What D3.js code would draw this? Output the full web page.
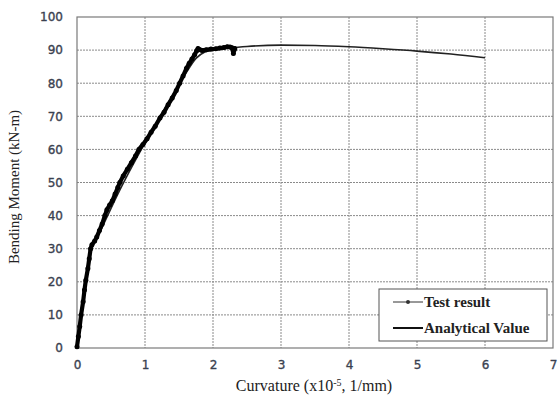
<!DOCTYPE html>
<html>
<head>
<meta charset="utf-8">
<script src="https://cdn.jsdelivr.net/npm/d3@7"></script>
<style>
  html, body { margin: 0; padding: 0; background: #fff; }
  svg { display: block; }
</style>
</head>
<body>
<svg id="chart" width="560" height="403"></svg>
<script>
// Moment–curvature response: measured test data vs. analytical prediction
const xTicks = [0, 1, 2, 3, 4, 5, 6, 7];
const yTicks = [0, 10, 20, 30, 40, 50, 60, 70, 80, 90, 100];

// Test result (curvature x10^-5 1/mm, moment kN-m)
const testCurv = [0, 0.02, 0.04, 0.06, 0.09, 0.11, 0.13, 0.16, 0.18, 0.20, 0.22, 0.26, 0.29, 0.33, 0.37, 0.41, 0.44, 0.48, 0.52, 0.56, 0.60, 0.63, 0.68, 0.74, 0.80, 0.86, 0.91, 0.97, 1.03, 1.09, 1.15, 1.22, 1.28, 1.34, 1.40, 1.46, 1.51, 1.56, 1.61, 1.65, 1.69, 1.73, 1.76, 1.78, 1.81, 1.84, 1.90, 1.97, 2.04, 2.10, 2.16, 2.21, 2.25, 2.28, 2.30, 2.31, 2.32];
const testMom  = [0.4, 3.5, 6.5, 10, 14, 17.5, 20.5, 24, 27, 30, 31.2, 32.3, 33.5, 35.5, 37.5, 40, 41.8, 43.2, 44.5, 46.5, 48.5, 50, 52, 54, 56, 58, 60, 61.5, 63.2, 65.2, 67, 69.5, 71.2, 73.5, 75.5, 77.8, 80, 82.2, 84.5, 86, 87.3, 88.6, 89.8, 90.5, 90.1, 89.9, 90.1, 90.3, 90.4, 90.6, 90.8, 91.0, 90.9, 90.7, 89.0, 90.0, 90.5];

// Analytical value
const anaCurv = [0, 0.10, 0.20, 0.30, 0.45, 0.60, 0.80, 1.00, 1.20, 1.40, 1.60, 1.75, 1.88, 2.00, 2.20, 2.50, 3.00, 3.50, 4.00, 4.50, 5.00, 5.50, 6.00];
const anaMom  = [0, 16, 30, 33.5, 40, 46.5, 54.5, 62, 69, 76, 83, 87.5, 89.4, 90.0, 90.5, 91.1, 91.5, 91.4, 91.0, 90.4, 89.7, 88.8, 87.7];

const svg = d3.select("#chart");
const L = 77, R = 553, T = 17, B = 348;

const x = d3.scaleLinear().domain([0, 7]).range([L, R]);
const y = d3.scaleLinear().domain([0, 100]).range([B, T]);

// grid
const grid = svg.append("g");
grid.selectAll("line.v").data(xTicks.slice(1, -1)).enter().append("line")
  .attr("x1", d => x(d)).attr("x2", d => x(d)).attr("y1", T).attr("y2", B)
  .attr("stroke", "#8a8a8a").attr("stroke-width", 1).attr("stroke-dasharray", "2,1");
grid.selectAll("line.h").data(yTicks.slice(1, -1)).enter().append("line")
  .attr("y1", d => y(d)).attr("y2", d => y(d)).attr("x1", L).attr("x2", R)
  .attr("stroke", "#8a8a8a").attr("stroke-width", 1).attr("stroke-dasharray", "2,1");

// frame
svg.append("rect").attr("x", L).attr("y", T).attr("width", R - L).attr("height", B - T)
  .attr("fill", "none").attr("stroke", "#7a7a7a").attr("stroke-width", 1.2);

// axes
const tickColor = "#3a4150";
const xAxis = svg.append("g").attr("transform", `translate(0,${B})`)
  .call(d3.axisBottom(x).tickValues(xTicks).tickSize(0).tickPadding(12).tickFormat(d3.format("d")));
const yAxis = svg.append("g").attr("transform", `translate(${L},0)`)
  .call(d3.axisLeft(y).tickValues(yTicks).tickSize(0).tickPadding(14).tickFormat(d3.format("d")));
[xAxis, yAxis].forEach(a => {
  a.select(".domain").remove();
  a.selectAll("text").attr("font-family", "DejaVu Sans").attr("font-size", 12)
    .attr("fill", tickColor).attr("stroke", tickColor).attr("stroke-width", 0.35);
});

// axis titles
svg.append("text").attr("x", 314).attr("y", 391).attr("text-anchor", "middle")
  .attr("font-family", "Liberation Serif").attr("font-size", 16).attr("fill", "#222")
  .html('Curvature (x10<tspan baseline-shift="super" font-size="10">-5</tspan>, 1/mm)');
svg.append("text").attr("transform", "translate(19,187) rotate(-90)").attr("text-anchor", "middle")
  .attr("font-family", "Liberation Serif").attr("font-size", 15).attr("fill", "#222")
  .text("Bending Moment (kN-m)");

const line = d3.line().x(d => x(d[0])).y(d => y(d[1]));
const testData = testCurv.map((c, i) => [c, testMom[i]]);
const anaData = anaCurv.map((c, i) => [c, anaMom[i]]);

// analytical value
svg.append("path").datum(anaData).attr("d", d3.line().curve(d3.curveMonotoneX).x(d => x(d[0])).y(d => y(d[1])))
  .attr("fill", "none").attr("stroke", "#222").attr("stroke-width", 1.6);

// test result: heavy line with markers
svg.append("path").datum(testData).attr("d", line)
  .attr("fill", "none").attr("stroke", "#000").attr("stroke-width", 4.2)
  .attr("stroke-linejoin", "round").attr("stroke-linecap", "round");
svg.append("g").selectAll("circle").data(testData).enter().append("circle")
  .attr("cx", d => x(d[0])).attr("cy", d => y(d[1])).attr("r", 2.5).attr("fill", "#000");

// legend
const lg = svg.append("g");
lg.append("rect").attr("x", 379).attr("y", 289).attr("width", 168).attr("height", 52)
  .attr("fill", "#fff").attr("stroke", "#555").attr("stroke-width", 1);
lg.append("line").attr("x1", 393).attr("x2", 423).attr("y1", 302).attr("y2", 302)
  .attr("stroke", "#333").attr("stroke-width", 1);
lg.append("circle").attr("cx", 408).attr("cy", 302).attr("r", 2).attr("fill", "#333");
lg.append("line").attr("x1", 393).attr("x2", 423).attr("y1", 328).attr("y2", 328)
  .attr("stroke", "#111").attr("stroke-width", 2);
lg.append("text").attr("x", 424).attr("y", 307).attr("font-family", "Liberation Serif")
  .attr("font-size", 15).attr("font-weight", "bold").attr("fill", "#222").text("Test result");
lg.append("text").attr("x", 424).attr("y", 333).attr("font-family", "Liberation Serif")
  .attr("font-size", 15).attr("font-weight", "bold").attr("fill", "#222").text("Analytical Value");
</script>
</body>
</html>
